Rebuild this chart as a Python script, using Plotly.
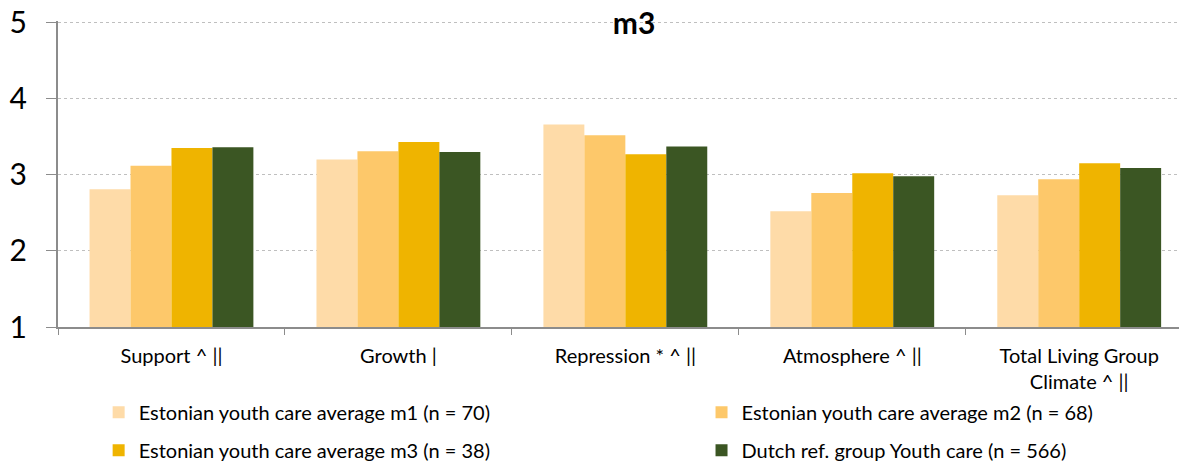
import plotly.graph_objects as go

categories = ["Support ^ ||", "Growth |", "Repression * ^ ||", "Atmosphere ^ ||",
              "Total Living Group<br>Climate ^ ||"]
series_names = ["Estonian youth care average m1 (n = 70)",
                "Estonian youth care average m2 (n = 68)",
                "Estonian youth care average m3 (n = 38)",
                "Dutch ref. group Youth care (n = 566)"]
m1 = [2.81, 3.20, 3.66, 2.52, 2.73]
m2 = [3.12, 3.31, 3.52, 2.76, 2.94]
m3 = [3.35, 3.43, 3.27, 3.02, 3.15]
dutch = [3.36, 3.30, 3.37, 2.98, 3.09]
y_ticks = [1, 2, 3, 4, 5]
colors = ["#FEDBA8", "#FDC86A", "#EFB400", "#3B5623"]
legend_ids = ["legend", "legend2", "legend3", "legend4"]

FONT = "Lato, Open Sans, sans-serif"

fig = go.Figure()
for name, vals, col, lg in zip(series_names, [m1, m2, m3, dutch], colors, legend_ids):
    fig.add_trace(go.Bar(x=categories, y=vals, name=name, marker_color=col,
                         marker_line_width=0, legend=lg))

# page body has an 8px default margin, so the figure is sized to fit the window
W, H = 1179, 453
legend_common = dict(orientation="h",
                     font=dict(family=FONT, size=20, color="#000000"),
                     bgcolor="rgba(0,0,0,0)", xanchor="left", yanchor="middle",
                     itemwidth=30, borderwidth=0)
col1_x, col2_x = 0.036, 0.570
row1_y, row2_y = -0.279, -0.403
fig.update_layout(
    width=W, height=H,
    margin=dict(l=50, r=0, t=13, b=134, autoexpand=False),
    paper_bgcolor="white", plot_bgcolor="white",
    barmode="group", bargap=0.278, bargroupgap=0,
    title=dict(text="<b>m3</b>", x=0.531, xanchor="center", y=0.966, yanchor="middle",
               font=dict(family=FONT, size=30, color="#000000")),
    showlegend=True,
    legend=dict(**legend_common, x=col1_x, y=row1_y),
    legend2=dict(**legend_common, x=col2_x, y=row1_y),
    legend3=dict(**legend_common, x=col1_x, y=row2_y),
    legend4=dict(**legend_common, x=col2_x, y=row2_y),
    yaxis=dict(range=[1, 5.02], tickmode="array", tickvals=y_ticks,
               showgrid=True, gridcolor="#BFBFBF", griddash="dot",
               gridwidth=1, showline=True, linecolor="#8C8C8C", linewidth=2,
               ticks="outside", ticklen=10, tickcolor="#8C8C8C", ticklabelstandoff=13,
               ticklabeloverflow="allow",
               tickfont=dict(family=FONT, size=30, color="#000000"),
               zeroline=False, fixedrange=True, automargin=False),
    xaxis=dict(range=[-0.5, 4.475], showline=True, linecolor="#8C8C8C", linewidth=2,
               ticks="outside", tickson="boundaries", ticklen=6, tickcolor="#8C8C8C",
               tickfont=dict(family=FONT, size=20, color="#000000"),
               ticklabelstandoff=10, fixedrange=True, automargin=False),
)

fig.write_html("out.html")
